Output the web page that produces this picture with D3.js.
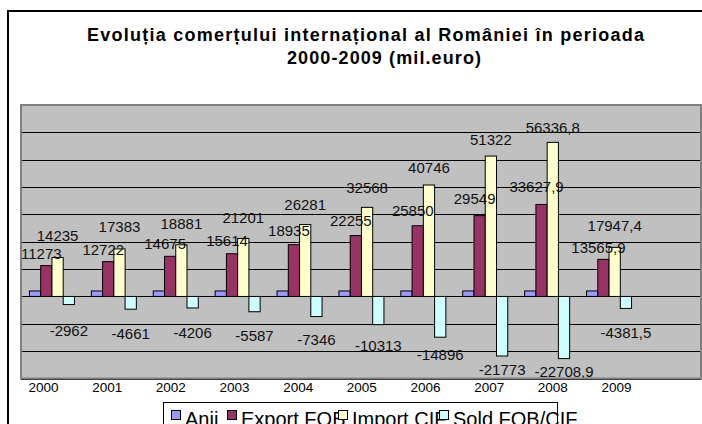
<!DOCTYPE html>
<html>
<head>
<meta charset="utf-8">
<script src="https://cdnjs.cloudflare.com/ajax/libs/d3/7.8.5/d3.min.js"></script>
<style>
  body { margin: 0; background: #fff; }
  svg { display: block; font-family: "Liberation Sans", Arial, sans-serif; }
</style>
</head>
<body>
<div id="chart-area"></div>
<script>
// DATA
var years = ["2000", "2001", "2002", "2003", "2004", "2005", "2006", "2007", "2008", "2009"];
var anii = [2000, 2001, 2002, 2003, 2004, 2005, 2006, 2007, 2008, 2009];
var exportFob = [11273, 12722, 14675, 15614, 18935, 22255, 25850, 29549, 33627.9, 13565.9];
var importCif = [14235, 17383, 18881, 21201, 26281, 32568, 40746, 51322, 56336.8, 17947.4];
var soldFobCif = [-2962, -4661, -4206, -5587, -7346, -10313, -14896, -21773, -22708.9, -4381.5];
var seriesNames = ["Anii", "Export FOB", "Import CIF", "Sold FOB/CIF"];
var seriesColors = ["#9999ff", "#993366", "#ffffcc", "#ccffff"];
var yTicks = [-30000, -20000, -10000, 0, 10000, 20000, 30000, 40000, 50000, 60000, 70000];

var rows = years.map(function (y, i) {
    return { year: y, values: [anii[i], exportFob[i], importCif[i], soldFobCif[i]] };
});

// SIZE
var W = 702, H = 424;
var plot = { left: 21, top: 105, right: 701, bottom: 378.5 };

var svg = d3.select("#chart-area")
    .append("svg")
    .attr("width", W)
    .attr("height", H);

// outer chart border (runs off the picture on the right and bottom)
svg.append("rect")
    .attr("x", 8).attr("y", 11)
    .attr("width", W + 20).attr("height", H + 20)
    .attr("fill", "none")
    .attr("stroke", "#000")
    .attr("stroke-width", 2);

// Title
svg.append("text")
    .attr("x", 87).attr("y", 40.5)
    .attr("font-size", "18px").attr("font-weight", "bold")
    .attr("textLength", 557).attr("lengthAdjust", "spacing")
    .text("Evoluția comerțului internațional al României în perioada");
svg.append("text")
    .attr("x", 287).attr("y", 64)
    .attr("font-size", "18px").attr("font-weight", "bold")
    .attr("textLength", 194).attr("lengthAdjust", "spacing")
    .text("2000-2009 (mil.euro)");

// Scales
var x0 = d3.scaleBand()
    .domain(years)
    .range([plot.left, plot.left + 619])
    .paddingInner(0.273)
    .paddingOuter(0.1365);

var x1 = d3.scaleBand()
    .domain(d3.range(seriesNames.length))
    .range([0, x0.bandwidth()]);

var y = d3.scaleLinear()
    .domain([yTicks[0], yTicks[yTicks.length - 1]])
    .range([plot.bottom, plot.top]);

// label placement as in the source (labels sit on their own scale)
var labelY = [
    null,
    d3.scaleLinear().domain([0, 33200]).range([293.4, 193.4]),
    d3.scaleLinear().domain([0, 39000]).range([277, 177]),
    d3.scaleLinear().domain([0, -24100]).range([329.4, 379.4])
];
var labelDx = [0, -5, 0, 0];

// Plot area
svg.append("rect")
    .attr("x", plot.left).attr("y", plot.top)
    .attr("width", plot.right - plot.left)
    .attr("height", plot.bottom - plot.top)
    .attr("fill", "#c0c0c0");

svg.append("g")
    .selectAll("line")
    .data(yTicks)
    .enter().append("line")
    .attr("x1", plot.left).attr("x2", plot.right)
    .attr("y1", d => Math.round(y(d)) + 0.5)
    .attr("y2", d => Math.round(y(d)) + 0.5)
    .attr("stroke", "#000")
    .attr("stroke-width", 1);

// Bars
var groups = svg.append("g")
    .selectAll("g")
    .data(rows)
    .enter().append("g")
    .attr("transform", d => "translate(" + x0(d.year) + ",0)");

groups.selectAll("rect")
    .data(d => d.values.map((v, i) => ({ i: i, v: v })))
    .enter().append("rect")
    .attr("x", d => x1(d.i))
    .attr("y", d => y(Math.max(0, d.v)))
    .attr("width", x1.bandwidth())
    .attr("height", d => Math.abs(y(d.v) - y(0)))
    .attr("fill", d => seriesColors[d.i])
    .attr("stroke", "#000")
    .attr("stroke-width", 1);

// Data labels
groups.selectAll("text")
    .data(d => d.values.map((v, i) => ({ i: i, v: v })).filter(d => d.i > 0))
    .enter().append("text")
    .attr("x", d => x1(d.i) + x1.bandwidth() / 2 + labelDx[d.i])
    .attr("y", d => labelY[d.i](d.v))
    .attr("text-anchor", "middle")
    .attr("font-size", "15px")
    .attr("fill", "#111")
    .text(d => String(d.v).replace(".", ","));

// Plot border
svg.append("rect")
    .attr("x", plot.left).attr("y", plot.top)
    .attr("width", plot.right - plot.left)
    .attr("height", plot.bottom - plot.top)
    .attr("fill", "none")
    .attr("stroke", "#808080")
    .attr("stroke-width", 2);

// X axis labels
var xLab = d3.scalePoint().domain(years).range([43, 616]);
var xAxis = svg.append("g")
    .attr("transform", "translate(0," + plot.bottom + ")")
    .call(d3.axisBottom(xLab).tickSize(0).tickPadding(4));
xAxis.select(".domain").remove();
xAxis.selectAll("text")
    .attr("font-size", "13.5px")
    .attr("font-family", "Liberation Sans, Arial, sans-serif")
    .attr("fill", "#000");

// Legend
var legend = svg.append("g");
legend.append("rect")
    .attr("x", 163.5).attr("y", 402.5)
    .attr("width", 394).attr("height", 40)
    .attr("fill", "#fff")
    .attr("stroke", "#000")
    .attr("stroke-width", 1);

var legendX = [171, 227, 338, 439];
seriesNames.forEach(function (name, i) {
    legend.append("rect")
        .attr("x", legendX[i] + 0.5).attr("y", 410.5)
        .attr("width", 9).attr("height", 9)
        .attr("fill", seriesColors[i])
        .attr("stroke", "#000")
        .attr("stroke-width", 1);
    legend.append("text")
        .attr("x", legendX[i] + 14)
        .attr("y", 426)
        .attr("font-size", "20px")
        .attr("fill", "#000")
        .text(name);
});
</script>
</body>
</html>
